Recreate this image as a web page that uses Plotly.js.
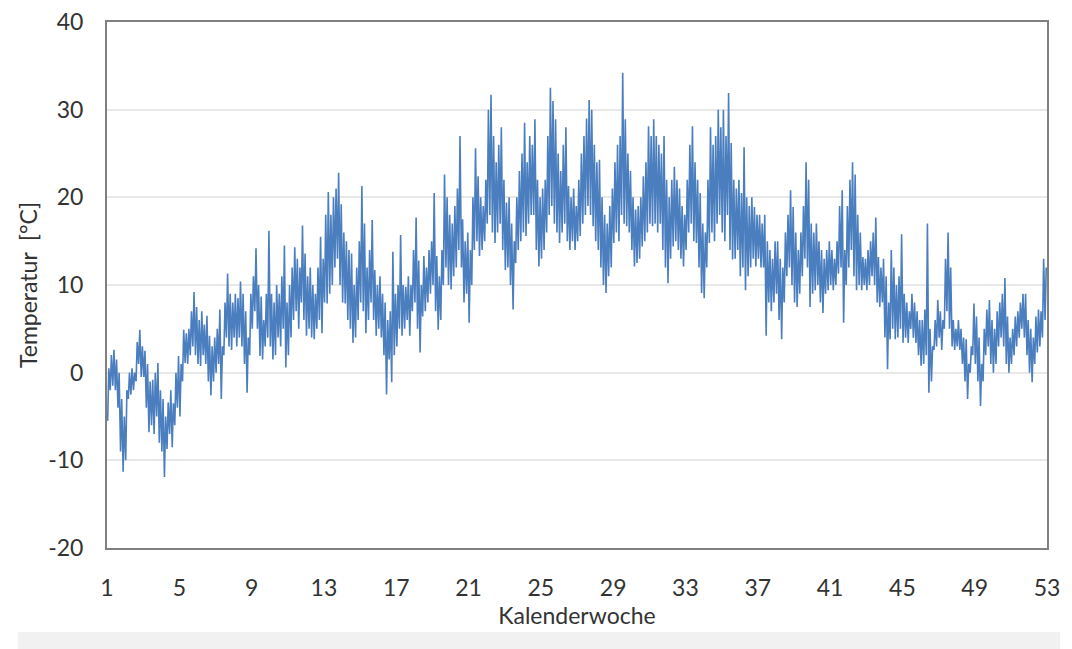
<!DOCTYPE html>
<html>
<head>
<meta charset="utf-8">
<script src="https://cdn.plot.ly/plotly-3.0.1.min.js"></script>
<style>
html,body{margin:0;padding:0;background:#fff;}
#chart{width:1072px;height:649px;}
</style>
</head>
<body>
<div id="chart"></div>
<script>
// Daily minimum temperatures (°C), day 0 = first day of week 1
const dailyMin = [
  -5.5,-2,-1.5,-2,-4,-9,-11.3,
  -10,-3,-2.5,-2,-1,1,-0.5,
  -0.5,-4,-6.8,-6,-7,-5,-8,
  -9,-11.9,-8.7,-7,-8.5,-6,-4,
  -5,-1,1.1,1,2,3,2,
  1,0.75,2,1,-1,-2.6,-1,
  0,1,-3,2,4,3,2.6,
  4,3,4,3,1,-2.3,2,
  5,7,5,1.9,1.5,3,4,
  3,1.5,2,4,3,5,0.6,
  2,4,6,7,5,8,6,
  4.2,5,4,3.8,5,6,4.5,
  8,7.9,9,10,12,13,10,
  8,7.9,6,5,3.4,4,6,
  8,7,4.5,6,8,6,4.2,
  5,4,2,-2.5,1.5,-1.1,2,
  3,5,4.2,5,6,4.2,7,
  8,5,2.3,6.4,7,8,9,
  10,7,4.9,6,10,12,10,
  9.5,11,12,14,12,8,9,
  5.7,10,14,15,13.3,14,15,
  17,18,16,14.8,16,17,14,
  11.7,12,10,7.2,12.5,14,15,
  16,15.6,17,18,18,14,12.1,
  13,14,16,18,19,17,16,
  14.8,16,17,15,14,15,14,
  15,15.6,17,18,19,18,16.7,
  15,14,12,10,9.1,11,12,
  14.8,16,15,18,17,16.7,16,
  14,12.1,12.5,13,14.4,15,16,
  17,16.7,17,16,17,14,12,
  10.2,13,14.4,15,14,13,12.1,
  14,16,17,15,14.8,12,9.1,
  8.5,12,14.8,16,15,17,18,
  16,15,18,14,12.9,13,14,
  11,12,9.4,11,12,13,12.1,
  13,12,12,4.2,8,7,8,
  9,6,3.8,8,11,12,10,
  8,7.5,9,11,13,12,7.5,
  9,9.4,10,8,6.8,9,9.4,
  10,9.4,10,11.3,12,5.7,10,
  12,14,11,9.4,10,9.4,10,
  9.4,10,11,10,8,7.5,8,
  4,0.4,3.8,5,3.8,4,5,
  3.4,4,3.4,5,4,3.4,2,
  0.8,1,2,-2.3,-1,2.6,3,
  4,2.6,5,7,5,3,2.6,
  3,2.6,1,-1,-3,0,2,
  1,-1,-3.8,-1,2,3,1,
  0,1,3,4,3,1,0,
  1,2,3,4,5,4,2,
  0,-1.1,1,2.3,3,4,6
];
// Daily maximum temperatures (°C)
const dailyMax = [
  0.5,2,2.6,1.5,0,-3,-5,
  -2,0,0.5,0,3.5,4.9,3,
  2.5,1,-1,-0.8,0,1.1,-2,
  -3,-5,-3.4,-2,-3.5,0,1.9,
  1,4.9,4.5,5,7,9.2,7.5,
  6,7,5.5,6.5,4.2,3,4,
  5,7.2,3,8,11.3,9,8,
  9,8.5,10.4,9,7,4,9,
  11,14.2,10,8.7,6,9,16.2,
  9,8,10,9,11,14.5,8,
  10,12,14.3,13,12,16.8,13.6,
  11,12,10,9,12,15.5,13,
  18,20.6,18,20,21,22.8,19.2,
  16,15,14,13.6,10,12,15,
  21.3,17,12,14,17.4,11.7,10,
  11,9,8,6,7,13.8,9,
  10,15.7,10,9.8,11,10,14,
  17.7,12.8,10,13.3,12,14,15,
  20.5,13.3,11,14,22.6,20,18,
  17,19,21,27,17.5,15,16,
  14,20,25.6,22.4,20,19,22,
  30,31.7,27,24,26,28,22,
  19.4,20,17,15,20,23,25,
  28.5,24,27,26,28.9,22,20,
  21,22,27,32.5,31,28.9,25,
  23,26,28,21.3,20,21,19,
  22,25,27,29,31.1,30,26,
  24,24.3,20,18,17,19,21,
  24,26,27,34.2,28.9,25,23,
  20,18.6,19,20,22.4,24,28.1,
  27,28.9,27,26,25,27,22,
  20,22,23.5,22,21,19,18,
  22,26,28.1,24,22,20.5,17,
  16,22,28,26,27,30,28,
  30,27,31.9,26.2,22,21,22,
  20.5,25.7,20,19,20,18.9,18,
  18,17,18,15,14,13,15,
  15,13,12,16,18,20.8,18.9,
  16,14,16,19,24,22,17,
  16,17,15,14,13,14,15,
  14,13,15,19,20.8,14,19,
  22,24,22.6,18,16,13.2,13,
  14,15,16,17.7,13.2,12,13,
  11,8,14,12,10,11,15.8,
  9,8,7,9,8,7,6,
  6,7.2,17,5,3,6,8.3,
  7,6,13,16,12,6,5,
  6,5,4,3.8,1,3,7.9,
  6.4,4,1,5,7.2,8.3,6,
  5,7,8,9,10.8,6.4,4,
  5,6.4,7,8,9,9,6,
  5,4,6.4,7.2,7,13,12
];
const weekTicks = [1,5,9,13,17,21,25,29,33,37,41,45,49,53];
const tempTicks = [-20,-10,0,10,20,30,40];
const tempTickText = ['-20','-10','0','10','20','30','40'];
const xTitle = 'Kalenderwoche';
const yTitle = 'Temperatur&nbsp;&nbsp;[°C]';

const xs = [], ys = [];
for (let d = 0; d < dailyMin.length; d++) {
  xs.push(1 + (d + 0.25) / 7); ys.push(dailyMin[d]);
  xs.push(1 + (d + 0.7) / 7);  ys.push(dailyMax[d]);
}

const font = 'Lato, "Open Sans", sans-serif';
const txt = '#333333';
const trace = {
  type: 'scatter', mode: 'lines', x: xs, y: ys,
  line: {color: '#4a7ebf', width: 1.6},
  hoverinfo: 'skip', showlegend: false
};
const layout = {
  width: 1072, height: 649,
  margin: {l: 107, r: 25, t: 22, b: 101},
  paper_bgcolor: '#ffffff', plot_bgcolor: '#ffffff',
  font: {family: font, size: 23, color: txt},
  showlegend: false,
  xaxis: {
    range: [1, 53], tickmode: 'array', tickvals: weekTicks, ticktext: weekTicks.map(String),
    showgrid: false, zeroline: false,
    showline: true, mirror: true, linecolor: '#808080', linewidth: 2,
    ticks: 'outside', ticklen: 18, tickcolor: 'rgba(0,0,0,0)',
    tickfont: {family: font, size: 23, color: txt},
    title: {text: xTitle, standoff: 0, font: {family: font, size: 23, color: txt}},
    automargin: false
  },
  yaxis: {
    range: [-20, 40], tickmode: 'array', tickvals: tempTicks, ticktext: tempTickText,
    showgrid: true, gridcolor: '#e8e8e8', gridwidth: 2, zeroline: false,
    showline: true, mirror: true, linecolor: '#808080', linewidth: 2,
    ticks: 'outside', ticklen: 17, tickcolor: 'rgba(0,0,0,0)',
    tickfont: {family: font, size: 23, color: txt},
    title: {text: yTitle, standoff: 4, font: {family: font, size: 23, color: txt}},
    automargin: false
  },
  shapes: [{
    type: 'rect', xref: 'paper', yref: 'paper',
    x0: -0.0947, x1: 1.0138, y0: -0.192, y1: -0.1597,
    fillcolor: '#f1f1f1', line: {width: 0}, layer: 'below'
  }]
};
Plotly.newPlot('chart', [trace], layout, {displayModeBar: false, staticPlot: true});
</script>
</body>
</html>
